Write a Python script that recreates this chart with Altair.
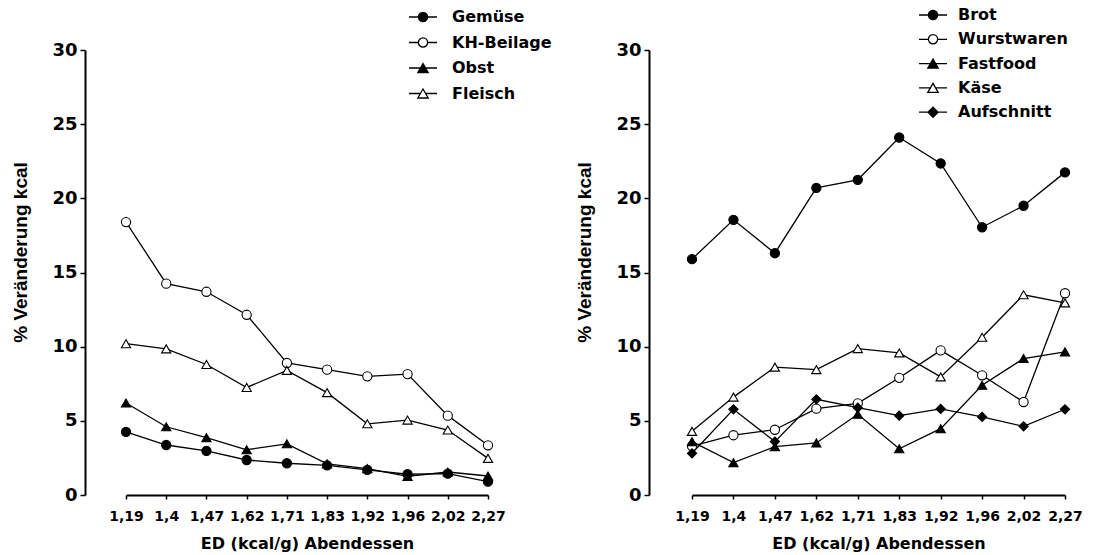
import altair as alt
import pandas as pd

# ---------------- data ----------------
ed_labels = ["1,19", "1,4", "1,47", "1,62", "1,71", "1,83", "1,92", "1,96", "2,02", "2,27"]

left_series = ["Gemüse", "KH-Beilage", "Obst", "Fleisch"]
gemuese = [4.25, 3.37, 2.97, 2.36, 2.14, 2.0, 1.69, 1.4, 1.44, 0.9]
kh_beilage = [18.4, 14.25, 13.7, 12.15, 8.9, 8.45, 8.0, 8.15, 5.35, 3.35]
obst = [6.2, 4.6, 3.87, 3.05, 3.45, 2.1, 1.78, 1.25, 1.55, 1.28]
fleisch = [10.2, 9.85, 8.8, 7.25, 8.4, 6.9, 4.8, 5.05, 4.38, 2.47]
left_values = [gemuese, kh_beilage, obst, fleisch]

right_series = ["Brot", "Wurstwaren", "Fastfood", "Käse", "Aufschnitt"]
brot = [15.9, 18.55, 16.3, 20.7, 21.25, 24.1, 22.35, 18.05, 19.5, 21.75]
wurstwaren = [3.3, 4.03, 4.4, 5.82, 6.18, 7.9, 9.75, 8.07, 6.27, 13.6]
fastfood = [3.6, 2.18, 3.26, 3.51, 5.44, 3.12, 4.47, 7.4, 9.2, 9.65]
kaese = [4.29, 6.6, 8.62, 8.45, 9.87, 9.58, 7.96, 10.63, 13.5, 12.95]
aufschnitt = [2.81, 5.78, 3.6, 6.45, 5.89, 5.35, 5.8, 5.26, 4.63, 5.78]
right_values = [brot, wurstwaren, fastfood, kaese, aufschnitt]

y_ticks = [0, 5, 10, 15, 20, 25, 30]

# ---------------- styles ----------------
left_shapes = ["circle", "circle", "triangle-up", "triangle-up"]
left_fills = ["black", "white", "black", "white"]
left_sizes = [85, 85, 100, 100]
right_shapes = ["circle", "circle", "triangle-up", "triangle-up", "diamond"]
right_fills = ["black", "white", "black", "white", "black"]
right_sizes = [85, 85, 100, 100, 85]


def n(v):
    return f"{round(v, 3)}"


def leg_path(kind):
    """Legend glyph: short line with the marker in its middle (unit coords)."""
    cx, x0, x1 = 1.0, -1.0, 3.0
    if kind == "circle":
        r = 0.66
        k = 0.5523 * r
        edge = r
        shape = (f"M{n(cx + r)},0 C{n(cx + r)},{n(k)} {n(cx + k)},{n(r)} {n(cx)},{n(r)} "
                 f"C{n(cx - k)},{n(r)} {n(cx - r)},{n(k)} {n(cx - r)},0 "
                 f"C{n(cx - r)},{n(-k)} {n(cx - k)},{n(-r)} {n(cx)},{n(-r)} "
                 f"C{n(cx + k)},{n(-r)} {n(cx + r)},{n(-k)} {n(cx + r)},0 Z")
    elif kind == "triangle-up":
        w, h = 0.74, 0.64
        edge = w / 2
        shape = f"M{n(cx)},{n(-h)} L{n(cx + w)},{n(h)} L{n(cx - w)},{n(h)} Z"
    else:
        d = 0.72
        edge = d
        shape = f"M{n(cx - d)},0 L{n(cx)},{n(-d)} L{n(cx + d)},0 L{n(cx)},{n(d)} Z"
    return f"M{n(x0)},0 L{n(cx - edge)},0 M{n(cx + edge)},0 L{n(x1)},0 " + shape


BOLD = "bold"
LABEL_FONT = "DejaVu Sans"
TITLE_FONT = "Liberation Sans"


def panel(series, values, shapes, fills, sizes, width, yoffset, legx, legy, laboff, rowpad):
    rows = []
    for s, vals in zip(series, values):
        for i, (lab, v) in enumerate(zip(ed_labels, vals)):
            rows.append({"ED": lab, "idx": i, "series": s, "value": v})
    df = pd.DataFrame(rows)
    base = alt.Chart(df)

    x = alt.X(
        "ED:O", sort=ed_labels,
        scale=alt.Scale(type="point", padding=0),
        title="ED (kcal/g) Abendessen",
        axis=alt.Axis(labelAngle=0, labelFont=LABEL_FONT, labelFontWeight=BOLD, labelFontSize=14,
                      labelColor="black", labelPadding=10, tickSize=4, tickColor="black", tickWidth=1.5,
                      domainColor="black", domainWidth=2, titleFont=LABEL_FONT, titleFontWeight=BOLD,
                      titleFontSize=16, titleColor="black", titlePadding=12, grid=False),
    )
    y = alt.Y(
        "value:Q",
        scale=alt.Scale(domain=[0, 30], nice=False),
        title="% Veränderung kcal",
        axis=alt.Axis(values=y_ticks, offset=yoffset, labelFont=LABEL_FONT, labelFontWeight=BOLD,
                      labelFontSize=18, labelColor="black", labelPadding=3, tickSize=5, tickColor="black",
                      tickWidth=1.5, domainColor="black", domainWidth=2, titleFont=TITLE_FONT,
                      titleFontWeight=BOLD, titleFontSize=19, titleColor="black", titlePadding=21,
                      titleY=202, grid=False),
    )

    lines = base.mark_line(color="black", strokeWidth=1.3).encode(
        x=x, y=y, detail="series:N", order="idx:Q")

    points = base.mark_point(filled=True, opacity=1, stroke="black", strokeWidth=1.1).encode(
        x=x, y=y,
        shape=alt.Shape("series:N", scale=alt.Scale(domain=series, range=shapes), legend=None),
        fill=alt.Fill("series:N", scale=alt.Scale(domain=series, range=fills), legend=None),
        size=alt.Size("series:N", scale=alt.Scale(domain=series, range=sizes), legend=None),
    )

    leg = alt.Legend(title=None, orient="none", legendX=legx, legendY=legy, padding=0,
                     labelFont=LABEL_FONT, labelFontWeight=BOLD, labelFontSize=16, labelColor="black",
                     labelOffset=laboff, rowPadding=rowpad, symbolSize=196,
                     symbolStrokeWidth=1.3, symbolOpacity=1)
    leg_paths = [leg_path(s) for s in shapes]
    legend_layer = base.transform_filter("false").mark_point(
        filled=True, opacity=1, size=196, strokeWidth=1.3).encode(
        x=x, y=y,
        shape=alt.Shape("series:N", scale=alt.Scale(domain=series, range=leg_paths), legend=leg),
        fill=alt.Fill("series:N", scale=alt.Scale(domain=series, range=fills), legend=leg),
        stroke=alt.Stroke("series:N", scale=alt.Scale(domain=series, range=["black"] * len(series)),
                          legend=leg),
    )

    return alt.layer(lines, points, legend_layer).resolve_scale(
        shape="independent", fill="independent", size="independent", stroke="independent"
    ).properties(width=width, height=445,
                 view=alt.ViewBackground(stroke="transparent", strokeWidth=0))


left = panel(left_series, left_values, left_shapes, left_fills, left_sizes,
             362, 41, 282, -41, 28, 9.5)
right = panel(right_series, right_values, right_shapes, right_fills, right_sizes,
              373, 43, 226, -43, 24, 8.3)

chart = alt.hconcat(left, right, spacing=23).resolve_scale(
    x="independent", y="independent", shape="independent", fill="independent",
    size="independent", stroke="independent"
).properties(
    padding={"left": 11, "top": 7, "right": 5, "bottom": 5}
).configure_view(strokeWidth=0, stroke="transparent").configure_axis(
    grid=False, gridOpacity=0
).configure(background="white")

chart.save("out.html", embed_options={"renderer": "svg", "actions": False})
